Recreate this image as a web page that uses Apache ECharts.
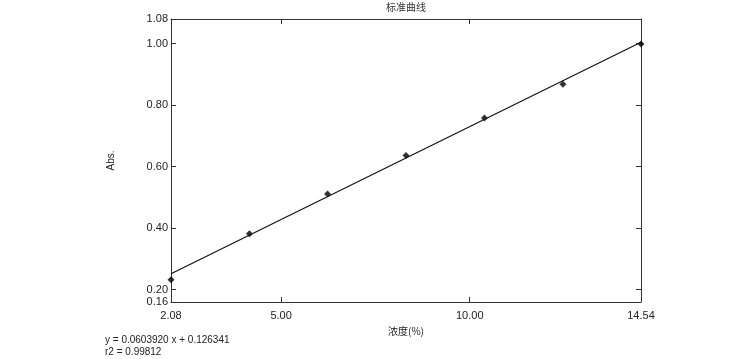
<!DOCTYPE html>
<html><head><meta charset="utf-8">
<script src="https://cdn.jsdelivr.net/npm/echarts@6/dist/echarts.min.js"></script>
<style>html,body{margin:0;padding:0;background:#fff}#c{width:756px;height:359px}</style>
</head><body><div id="c"></div>
<script>
var concentrations = [2.08, 4.16, 6.23, 8.31, 10.39, 12.47, 14.54];
var absorbances = [0.232, 0.382, 0.511, 0.636, 0.758, 0.868, 0.999];
var xLabelValues = [2.08, 5, 10, 14.54];
var xTickValues = [5, 10];
var yLabelValues = [0.16, 0.2, 0.4, 0.6, 0.8, 1.0, 1.08];
var yTickValues = [0.2, 0.4, 0.6, 0.8, 1.0];
var slope = 0.0603920, intercept = 0.126341;
var equationText = 'y = 0.0603920 x + 0.126341';
var r2Text = 'r2 = 0.99812';

var xMin = 2.08, xMax = 14.54, yMin = 0.16, yMax = 1.08;
var fitLine = [[xMin, slope * xMin + intercept], [xMax, slope * xMax + intercept]];
var points = concentrations.map(function (x, i) { return [x, absorbances[i]]; });

var font = 'Liberation Sans, Arial, sans-serif';
var axisCol = '#333';
function fmt(v) { return Number(v).toFixed(2); }

var chart = echarts.init(document.getElementById('c'));
chart.setOption({
  animation: false,
  title: { text: '标准曲线', left: 406, top: 2, padding: 0, textAlign: 'center',
    textStyle: { fontSize: 10, fontWeight: 'normal', color: '#333', fontFamily: 'Noto Sans CJK SC' } },
  grid: { left: 171, right: 115, top: 19, bottom: 57 },
  xAxis: [{
    type: 'value', min: xMin, max: xMax, position: 'bottom',
    name: '浓度(%)', nameLocation: 'middle', nameGap: 20,
    nameTextStyle: { fontSize: 10, color: '#222', fontFamily: 'Noto Sans CJK SC' },
    axisLine: { lineStyle: { color: axisCol, width: 1 } },
    axisTick: { inside: true, length: 5, customValues: xTickValues, lineStyle: { color: axisCol } },
    axisLabel: { customValues: xLabelValues, formatter: fmt, fontSize: 11, color: '#222', fontFamily: font, margin: 8 },
    splitLine: { show: false }
  }, {
    type: 'value', min: xMin, max: xMax, position: 'top',
    axisLine: { lineStyle: { color: axisCol, width: 1 } },
    axisTick: { inside: true, length: 5, customValues: xTickValues, lineStyle: { color: axisCol } },
    axisLabel: { show: false }, splitLine: { show: false }
  }],
  yAxis: [{
    type: 'value', min: yMin, max: yMax, position: 'left',
    name: 'Abs.', nameLocation: 'middle', nameGap: 55, nameRotate: 90,
    nameTextStyle: { fontSize: 10, color: '#222', fontFamily: font },
    axisLine: { show: true, lineStyle: { color: axisCol, width: 1 } },
    axisTick: { show: true, inside: true, length: 5, customValues: yTickValues, lineStyle: { color: axisCol } },
    axisLabel: { customValues: yLabelValues, formatter: fmt, fontSize: 11, color: '#222', fontFamily: font, margin: 3 },
    splitLine: { show: false }
  }, {
    type: 'value', min: yMin, max: yMax, position: 'right',
    axisLine: { show: true, lineStyle: { color: axisCol, width: 1 } },
    axisTick: { show: true, inside: true, length: 5, customValues: yTickValues, lineStyle: { color: axisCol } },
    axisLabel: { show: false }, splitLine: { show: false }
  }],
  series: [{
    type: 'line', data: fitLine, symbol: 'none', silent: true,
    lineStyle: { color: '#111', width: 1.2 }
  }, {
    type: 'scatter', data: points, symbol: 'diamond', symbolSize: 7,
    itemStyle: { color: '#000' }
  }],
  graphic: [
    { type: 'text', left: 105, top: 335, style: { text: equationText, fontSize: 10, fill: '#222', fontFamily: font } },
    { type: 'text', left: 105, top: 347, style: { text: r2Text, fontSize: 10, fill: '#222', fontFamily: font } }
  ]
});
</script></body></html>
